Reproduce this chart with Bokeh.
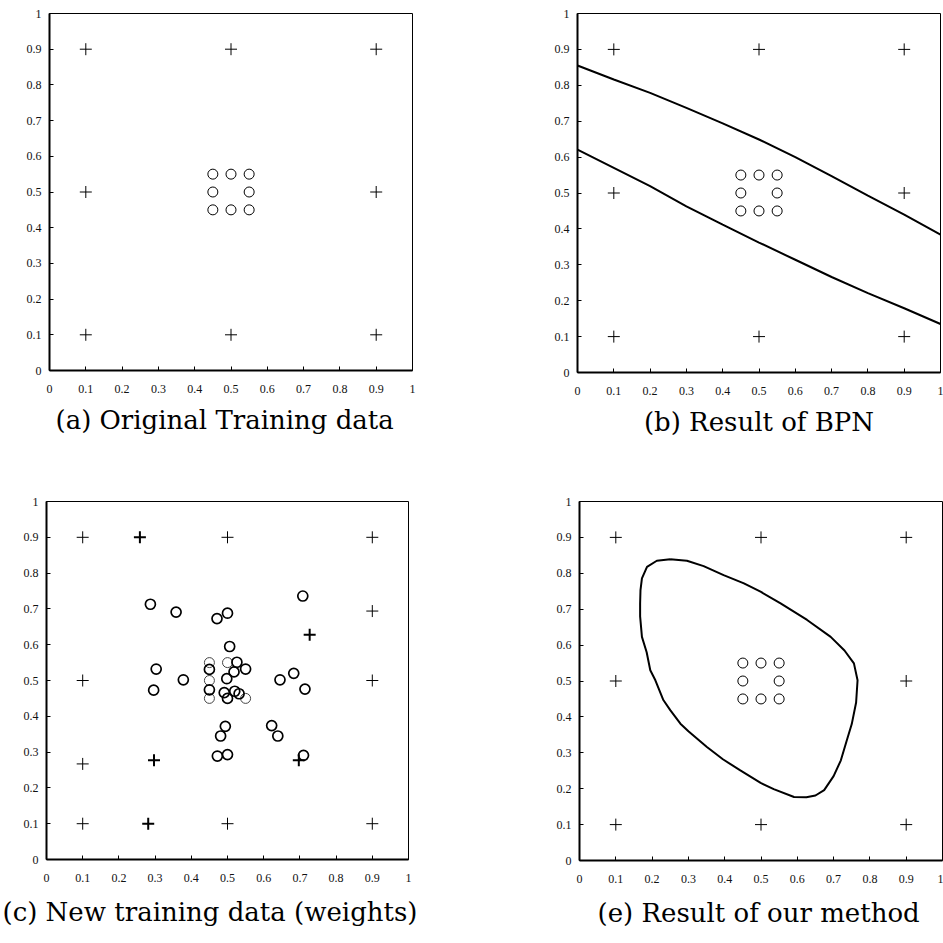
from bokeh.plotting import figure
from bokeh.layouts import column, row
from bokeh.models import FixedTicker, CustomJSTickFormatter, Title, Range1d
from bokeh.embed import file_html
from bokeh.resources import INLINE

# ---------------- data ----------------
tick_values = [0, 0.1, 0.2, 0.3, 0.4, 0.5, 0.6, 0.7, 0.8, 0.9, 1]
tick_labels = ["0", "0.1", "0.2", "0.3", "0.4", "0.5", "0.6", "0.7", "0.8", "0.9", "1"]

# original training data
plus_x = [0.1, 0.5, 0.9, 0.1, 0.9, 0.1, 0.5, 0.9]
plus_y = [0.9, 0.9, 0.9, 0.5, 0.5, 0.1, 0.1, 0.1]
circ_x = [0.45, 0.5, 0.55, 0.45, 0.55, 0.45, 0.5, 0.55]
circ_y = [0.55, 0.55, 0.55, 0.5, 0.5, 0.45, 0.45, 0.45]

# BPN result boundaries
bpn_x = [0, 0.1, 0.2, 0.3, 0.4, 0.5, 0.6, 0.7, 0.8, 0.9, 1.0]
bpn_upper = [0.855, 0.816, 0.779, 0.737, 0.694, 0.649, 0.600, 0.547, 0.493, 0.440, 0.384]
bpn_lower = [0.621, 0.570, 0.519, 0.463, 0.412, 0.362, 0.314, 0.266, 0.221, 0.179, 0.135]

# new training data (weights)
new_plus_x = [0.1, 0.5, 0.9, 0.9, 0.1, 0.9, 0.1, 0.1, 0.5, 0.9]
new_plus_y = [0.9, 0.9, 0.9, 0.694, 0.5, 0.5, 0.267, 0.1, 0.1, 0.1]
new_plus_bold_x = [0.258, 0.727, 0.297, 0.697, 0.281]
new_plus_bold_y = [0.9, 0.628, 0.277, 0.277, 0.1]
new_circ_thin_x = [0.45, 0.45, 0.45, 0.5, 0.55]
new_circ_thin_y = [0.55, 0.5, 0.45, 0.55, 0.45]
new_circ_x = [0.287, 0.358, 0.471, 0.5, 0.708, 0.506, 0.303, 0.296, 0.378,
              0.45, 0.45, 0.526, 0.55, 0.518, 0.498, 0.491, 0.52, 0.532, 0.5,
              0.645, 0.683, 0.714, 0.494, 0.481, 0.622, 0.639, 0.472, 0.5, 0.71]
new_circ_y = [0.713, 0.691, 0.673, 0.688, 0.736, 0.595, 0.532, 0.473, 0.502,
              0.531, 0.474, 0.551, 0.532, 0.524, 0.505, 0.466, 0.47, 0.463, 0.45,
              0.502, 0.52, 0.476, 0.372, 0.345, 0.374, 0.345, 0.289, 0.293, 0.291]

# result of our method (closed boundary)
our_x = [0.25, 0.296, 0.342, 0.397, 0.453, 0.50, 0.554, 0.627, 0.692, 0.73, 0.756,
         0.766, 0.762, 0.75, 0.735, 0.72, 0.70, 0.674, 0.650, 0.625, 0.591, 0.535,
         0.499, 0.443, 0.395, 0.351, 0.30, 0.278, 0.25, 0.231, 0.209, 0.195, 0.185,
         0.172, 0.167, 0.167, 0.168, 0.172, 0.186, 0.213, 0.25]
our_y = [0.839, 0.835, 0.82, 0.795, 0.772, 0.748, 0.716, 0.67, 0.623, 0.585, 0.549,
         0.502, 0.44, 0.38, 0.33, 0.279, 0.235, 0.196, 0.181, 0.176, 0.177, 0.199,
         0.216, 0.251, 0.282, 0.316, 0.36, 0.381, 0.419, 0.447, 0.502, 0.53, 0.58,
         0.623, 0.68, 0.716, 0.753, 0.786, 0.818, 0.835, 0.839]

captions = ["(a) Original Training data", "(b) Result of BPN",
            "(c) New training data (weights)", "(e) Result of our method"]

TICK_FONT = "Liberation Serif"
CAP_FONT = "DejaVu Serif"


def make_panel(bl, fw, br, bt, fh, bb, caption, cap_align, cap_offset, cap_standoff):
    p = figure(frame_width=fw, frame_height=fh,
               min_border_left=bl, min_border_right=br,
               min_border_top=bt, min_border_bottom=bb,
               x_range=Range1d(0, 1), y_range=Range1d(0, 1),
               output_backend="svg", toolbar_location=None,
               background_fill_color="white", border_fill_color="white")
    p.grid.visible = False
    p.outline_line_color = "black"
    p.outline_line_width = 1
    fmt = CustomJSTickFormatter(args=dict(vals=tick_values, labs=tick_labels), code="""
        for (let i = 0; i < vals.length; i++) {
            if (Math.abs(vals[i] - tick) < 1e-9) { return labs[i]; }
        }
        return '';
    """)
    for ax in (p.xaxis[0], p.yaxis[0]):
        ax.ticker = FixedTicker(ticks=tick_values, minor_ticks=[])
        ax.formatter = fmt
        ax.axis_line_width = 2
        ax.axis_line_color = "black"
        ax.major_tick_in = 4
        ax.major_tick_out = 0
        ax.major_tick_line_color = "black"
        ax.minor_tick_line_color = None
        ax.major_label_text_font = TICK_FONT
        ax.major_label_text_font_size = "12px"
        ax.major_label_text_color = "#111111"
    p.xaxis.major_label_standoff = 14
    p.yaxis.major_label_standoff = 8
    t = Title(text=caption, align=cap_align, offset=cap_offset, standoff=cap_standoff,
              text_font=CAP_FONT, text_font_size="26px", text_font_style="normal",
              text_color="black")
    p.add_layout(t, "below")
    return p


def base_points(p):
    p.scatter(plus_x, plus_y, marker="cross", size=12, line_color="black", line_width=1)
    p.scatter(circ_x, circ_y, marker="circle", size=10, line_color="black",
              fill_color=None, line_width=1)


pa = make_panel(49, 363, 59, 13, 357, 110, captions[0], "left", 6, 14)
base_points(pa)

pb = make_panel(106, 363, 3, 10, 359, 111, captions[1], "center", 0, 14)
base_points(pb)
pb.line(bpn_x, bpn_upper, line_color="black", line_width=2)
pb.line(bpn_x, bpn_lower, line_color="black", line_width=2)

pc = make_panel(46, 362, 63, 21, 358, 84, captions[2], "left", -44, 20)
pc.scatter(new_plus_x, new_plus_y, marker="cross", size=12, line_color="black", line_width=1)
pc.scatter(new_plus_bold_x, new_plus_bold_y, marker="cross", size=12, line_color="black", line_width=2)
pc.scatter(new_circ_thin_x, new_circ_thin_y, marker="circle", size=10, line_color="#444444",
           fill_color=None, line_width=1)
pc.scatter(new_circ_x, new_circ_y, marker="circle", size=10, line_color="black",
           fill_color=None, line_width=1.7)

pe = make_panel(108, 363, 1, 21, 359, 83, captions[3], "left", 18, 20)
base_points(pe)
pe.line(our_x, our_y, line_color="black", line_width=2)

layout = column(row(pa, pb, spacing=0), row(pc, pe, spacing=0), spacing=0)

with open("out.html", "w") as f:
    f.write(file_html(layout, INLINE))
